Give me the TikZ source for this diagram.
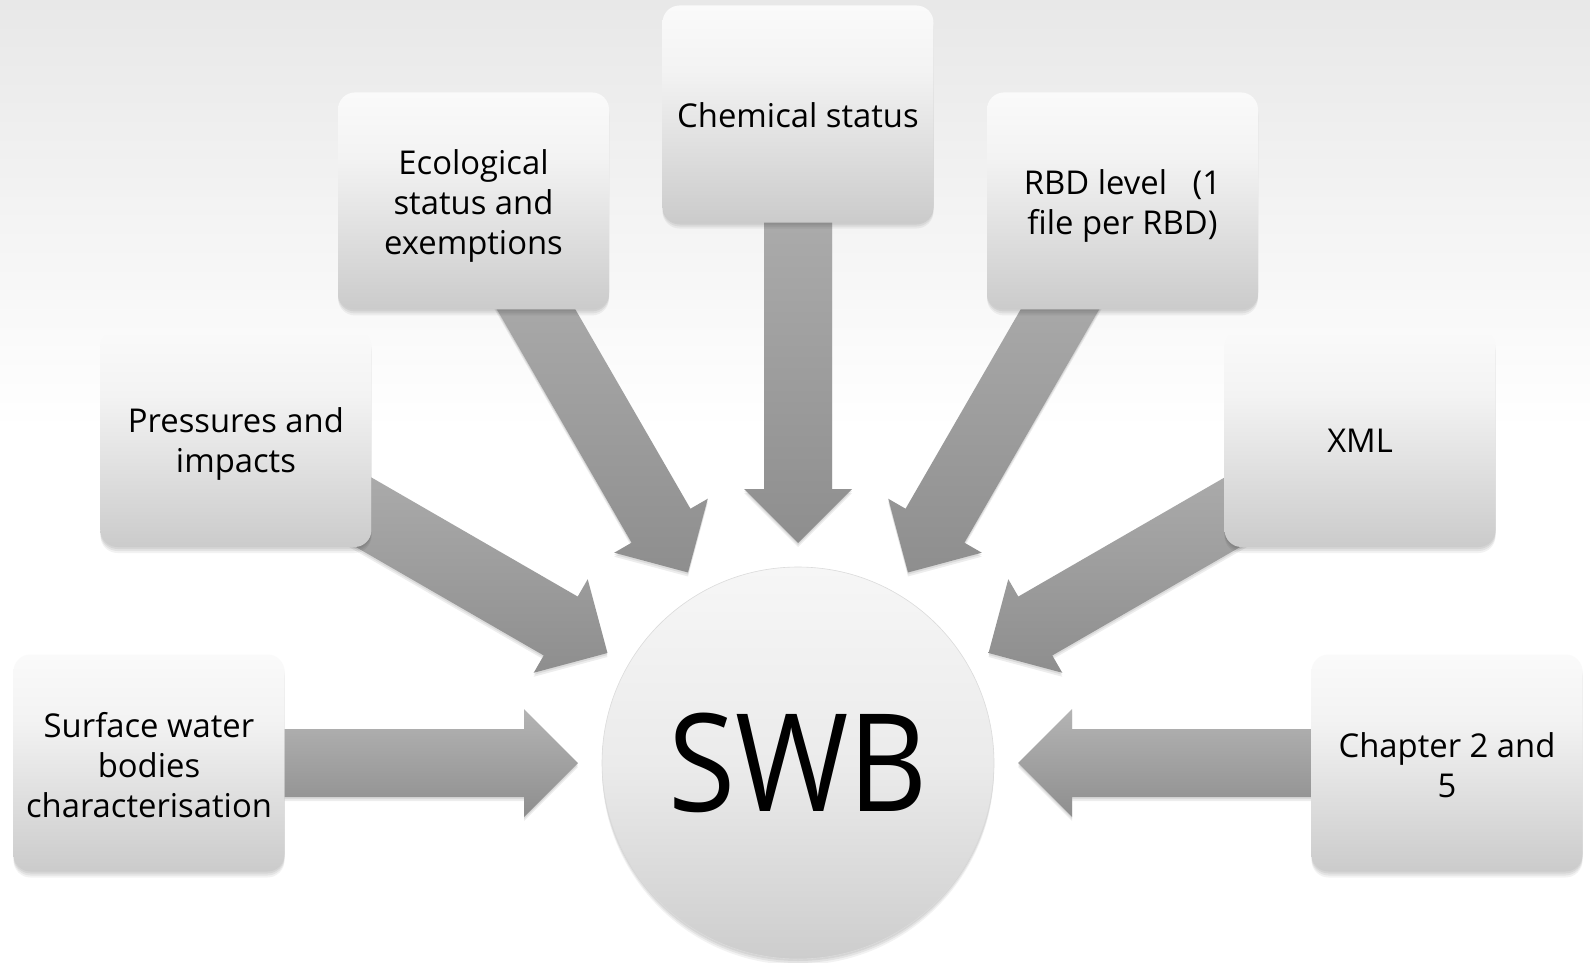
\documentclass[tikz,border=0pt]{standalone}
\usepackage{fontspec}
\setmainfont{Open Sans}
\usetikzlibrary{calc,shadows}
\definecolor{bgtop}{HTML}{E8E8E8}
\definecolor{boxtop}{HTML}{FAFAFA}
\definecolor{boxmidA}{HTML}{F3F3F3}
\definecolor{boxmidB}{HTML}{E2E2E2}
\definecolor{boxbot}{HTML}{CBCBCB}
\definecolor{cirtop}{HTML}{F6F6F6}
\definecolor{cirmid}{HTML}{EBEBEB}
\definecolor{cirbot}{HTML}{CDCDCD}
\definecolor{arrtop}{HTML}{B4B4B4}
\definecolor{arrbot}{HTML}{8E8E8E}
\pgfdeclareverticalshading{boxshade}{100bp}{color(0bp)=(boxbot); color(25bp)=(boxbot); color(45bp)=(boxmidB); color(60bp)=(boxmidA); color(75bp)=(boxtop); color(100bp)=(boxtop)}
\pgfdeclareverticalshading{cirshade}{100bp}{color(0bp)=(cirbot); color(25bp)=(cirbot); color(50bp)=(cirmid); color(75bp)=(cirtop); color(100bp)=(cirtop)}
\pgfdeclarelayer{bglayer}
\pgfdeclarelayer{arrlayer}
\pgfsetlayers{bglayer,arrlayer,main}
\newcommand\bt[1]{\raisebox{-6pt}[\height][\depth]{\begin{tabular}{@{}c@{}}#1\end{tabular}}}
\tikzset{
  softshadow/.style={
    drop shadow={shadow xshift=0pt, shadow yshift=-2pt, opacity=.06, fill=black},
    drop shadow={shadow xshift=0pt, shadow yshift=-4pt, opacity=.06, fill=black},
    drop shadow={shadow xshift=0pt, shadow yshift=-6pt, opacity=.05, fill=black}},
  box/.style={rounded corners=17pt, minimum width=271pt, minimum height=217pt,
    shading=boxshade, align=center, inner sep=0pt,
    font=\fontsize{32.8}{40}\selectfont, softshadow},
  hub/.style={circle, minimum size=392pt, inner sep=0pt, shading=cirshade,
    draw=black!14, line width=0.6pt, softshadow,
    font=\fontsize{136}{150}\selectfont},
  arr/.style={top color=arrtop, bottom color=arrbot,
    drop shadow={shadow xshift=0pt, shadow yshift=-2pt, opacity=.08, fill=black},
    drop shadow={shadow xshift=0pt, shadow yshift=-4pt, opacity=.07, fill=black}}
}
\newcommand\blkarrow[1]{%
  \coordinate (t) at ($(C)!220pt!(#1)$);
  \coordinate (h) at ($(C)!274pt!(#1)$);
  \path[arr] (t) -- ($(h)!54pt!90:(#1)$) -- ($(h)!34pt!90:(#1)$)
    -- ($(#1)!34pt!-90:(h)$) -- ($(#1)!34pt!90:(h)$)
    -- ($(h)!34pt!-90:(#1)$) -- ($(h)!54pt!-90:(#1)$) -- cycle;
}
\begin{document}
\begin{tikzpicture}[x=1pt,y=-1pt]
\useasboundingbox (0,0) rectangle (1590,963);
\begin{pgfonlayer}{bglayer}
  \fill[white] (0,0) rectangle (1590,963);
  \fill[top color=bgtop, bottom color=white] (0,0) rectangle (1590,430);
\end{pgfonlayer}
\node[hub] (C) at (798,763) {\scalebox{0.9}[1]{SWB}};
\node[box] (sw)  at ($(C)+(180:649)$) {\bt{Surface water\\bodies\\characterisation}};
\node[box] (pi)  at ($(C)+(210:649)$) {\bt{Pressures and\\impacts}};
\node[box] (eco) at ($(C)+(240:649)$) {\bt{Ecological\\status and\\exemptions}};
\node[box] (chem) at ($(C)+(270:649)$) {\bt{Chemical status}};
\node[box] (rbd) at ($(C)+(300:649)$) {\bt{RBD level~~~(1\\file per RBD)}};
\node[box] (xml) at ($(C)+(330:649)$) {\bt{XML}};
\node[box] (ch)  at ($(C)+(0:649)$) {\bt{Chapter 2 and\\5}};
\begin{pgfonlayer}{arrlayer}
  \blkarrow{sw}
  \blkarrow{pi}
  \blkarrow{eco}
  \blkarrow{chem}
  \blkarrow{rbd}
  \blkarrow{xml}
  \blkarrow{ch}
\end{pgfonlayer}
\end{tikzpicture}
\end{document}
